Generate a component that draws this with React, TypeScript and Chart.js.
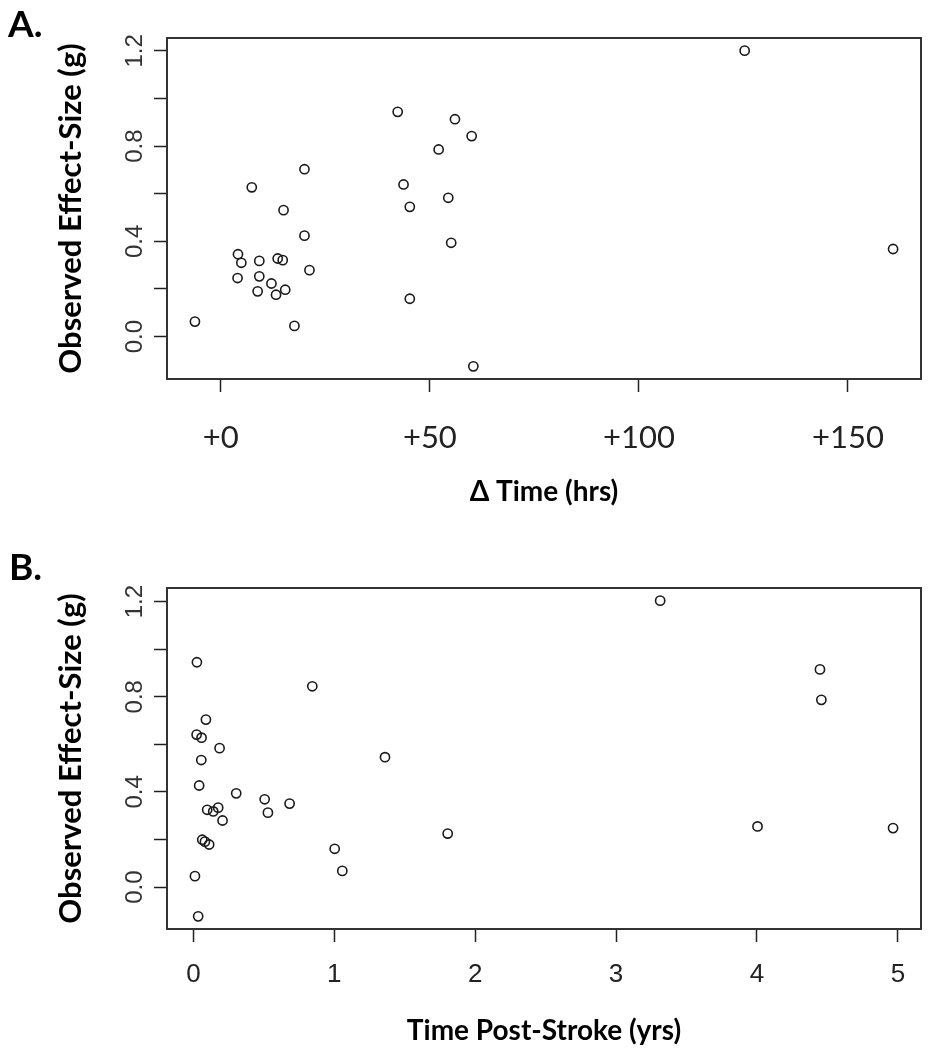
import React, { useEffect, useRef } from "react";
import { Chart, registerables } from "chart.js";

Chart.register(...registerables);

// Panel A: Δ Time (hrs) vs observed effect size
const A_DELTA_TIME_HRS = [
  -6.2, 4.1, 4.9, 4.0, 7.4, 9.2, 9.2, 8.8, 12.1, 13.6, 14.8, 13.2, 15.4, 15.0, 17.6,
  20.0, 20.0, 21.2, 42.3, 43.7, 45.2, 45.2, 52.1, 54.4, 55.1, 56.0, 60.0, 60.4, 125.3, 160.8,
];
const A_EFFECT_SIZE = [
  0.063, 0.346, 0.31, 0.246, 0.627, 0.318, 0.253, 0.19, 0.223, 0.328, 0.321, 0.176, 0.197, 0.531, 0.045,
  0.703, 0.424, 0.279, 0.944, 0.639, 0.545, 0.159, 0.786, 0.583, 0.394, 0.913, 0.842, -0.125, 1.201, 0.368,
];

// Panel B: Time post-stroke (yrs) vs observed effect size
const B_TIME_POST_STROKE_YRS = [
  0.025, 0.844, 0.089, 0.023, 0.058, 0.186, 0.056, 1.36, 0.041, 0.304, 0.506, 0.683, 0.529, 0.098, 0.141,
  0.176, 0.207, 0.063, 0.082, 0.112, 1.805, 1.003, 1.057, 0.011, 0.034, 3.313, 4.447, 4.457, 4.004, 4.966,
];
const B_EFFECT_SIZE = [
  0.945, 0.844, 0.704, 0.641, 0.628, 0.584, 0.534, 0.546, 0.427, 0.394, 0.369, 0.351, 0.313, 0.325, 0.318,
  0.334, 0.28, 0.199, 0.191, 0.179, 0.225, 0.161, 0.068, 0.046, -0.123, 1.204, 0.915, 0.787, 0.255, 0.248,
];

// Tick values and labels
const Y_TICKS = [0, 0.2, 0.4, 0.6, 0.8, 1.0, 1.2];
const Y_TICK_LABELS = ["0.0", "", "0.4", "", "0.8", "", "1.2"];
const A_X_TICKS = [0, 50, 100, 150];
const A_X_TICK_LABELS = ["+0", "+50", "+100", "+150"];
const B_X_TICKS = [0, 1, 2, 3, 4, 5];
const B_X_TICK_LABELS = ["0", "1", "2", "3", "4", "5"];

const Y_TITLE = "Observed Effect-Size (g)";
const A_X_TITLE = "\u0394 Time (hrs)";
const B_X_TITLE = "Time Post-Stroke (yrs)";

const W = 936;
const H = 525;
const R_FONT = "'Liberation Sans', Arial, Helvetica, sans-serif";
const TITLE_FONT = "Lato, 'Open Sans', sans-serif";

// R-style axis range: data range extended by 4% on each side
function rRange(arr: number[]): [number, number] {
  const mn = Math.min(...arr);
  const mx = Math.max(...arr);
  const r = mx - mn;
  return [mn - 0.04 * r, mx + 0.04 * r];
}

const boxPlugin = {
  id: "rbox",
  afterDatasetsDraw(chart: any) {
    const { ctx, chartArea: a } = chart;
    ctx.save();
    ctx.strokeStyle = "#333";
    ctx.lineWidth = 2;
    ctx.strokeRect(a.left, a.top, a.right - a.left, a.bottom - a.top);
    ctx.restore();
  },
};

interface PanelSpec {
  xs: number[];
  ys: number[];
  xTicks: number[];
  xLabels: string[];
  xTitle: string;
  xTickFont: any;
  xTickPad: number;
  topPad: number;
  xAxisHeight: number;
  xTitlePadBottom: number;
}

function makeConfig(p: PanelSpec): any {
  const [xmin, xmax] = rRange(p.xs);
  const [ymin, ymax] = rRange(p.ys);
  return {
    type: "scatter",
    data: {
      datasets: [
        {
          data: p.xs.map((x, i) => ({ x, y: p.ys[i] })),
          pointStyle: "circle",
          pointRadius: 4.6,
          pointBorderWidth: 1.6,
          pointBorderColor: "#1a1a1a",
          pointBackgroundColor: "rgba(0,0,0,0)",
          showLine: false,
        },
      ],
    },
    options: {
      animation: false,
      responsive: false,
      devicePixelRatio: 1,
      events: [],
      layout: { padding: { top: p.topPad, right: 15, left: 0, bottom: 0 } },
      plugins: { legend: { display: false }, tooltip: { enabled: false }, title: { display: false } },
      scales: {
        x: {
          type: "linear",
          position: "bottom",
          min: xmin,
          max: xmax,
          afterBuildTicks: (s: any) => {
            s.ticks = p.xTicks.map((v) => ({ value: v }));
          },
          afterFit: (s: any) => {
            s.height = p.xAxisHeight;
          },
          border: { display: false },
          grid: {
            display: true,
            drawOnChartArea: false,
            drawTicks: true,
            tickLength: 13,
            tickColor: "#222",
            tickWidth: 1.5,
          },
          ticks: {
            autoSkip: false,
            maxRotation: 0,
            minRotation: 0,
            padding: p.xTickPad,
            color: "#222",
            font: p.xTickFont,
            callback: (_v: any, i: number) => p.xLabels[i],
          },
          title: {
            display: true,
            text: p.xTitle,
            color: "#000",
            font: { family: TITLE_FONT, size: 28, weight: "bold" },
            padding: { top: 0, bottom: p.xTitlePadBottom },
          },
        },
        y: {
          type: "linear",
          position: "left",
          min: ymin,
          max: ymax,
          afterBuildTicks: (s: any) => {
            s.ticks = Y_TICKS.map((v) => ({ value: v }));
          },
          afterFit: (s: any) => {
            s.width = 167;
          },
          border: { display: false },
          grid: {
            display: true,
            drawOnChartArea: false,
            drawTicks: true,
            tickLength: 13,
            tickColor: "#222",
            tickWidth: 1.5,
          },
          ticks: {
            autoSkip: false,
            minRotation: 90,
            maxRotation: 90,
            crossAlign: "center",
            padding: 2,
            color: "#333",
            font: { family: R_FONT, size: 24 },
            callback: (_v: any, i: number) => Y_TICK_LABELS[i],
          },
          title: {
            display: true,
            text: Y_TITLE,
            color: "#000",
            font: { family: TITLE_FONT, size: 31, weight: "bold" },
            padding: { top: 52, bottom: 0 },
          },
        },
      },
    },
    plugins: [boxPlugin],
  };
}

const PANEL_A: PanelSpec = {
  xs: A_DELTA_TIME_HRS,
  ys: A_EFFECT_SIZE,
  xTicks: A_X_TICKS,
  xLabels: A_X_TICK_LABELS,
  xTitle: A_X_TITLE,
  xTickFont: { family: TITLE_FONT, size: 31 },
  xTickPad: 27,
  topPad: 38,
  xAxisHeight: 146,
  xTitlePadBottom: 16,
};

const PANEL_B: PanelSpec = {
  xs: B_TIME_POST_STROKE_YRS,
  ys: B_EFFECT_SIZE,
  xTicks: B_X_TICKS,
  xLabels: B_X_TICK_LABELS,
  xTitle: B_X_TITLE,
  xTickFont: { family: R_FONT, size: 26 },
  xTickPad: 17,
  topPad: 63,
  xAxisHeight: 121,
  xTitlePadBottom: 2,
};

export default function App() {
  const refA = useRef<HTMLCanvasElement | null>(null);
  const refB = useRef<HTMLCanvasElement | null>(null);

  useEffect(() => {
    const charts: Chart[] = [];
    if (refA.current) charts.push(new Chart(refA.current, makeConfig(PANEL_A)));
    if (refB.current) charts.push(new Chart(refB.current, makeConfig(PANEL_B)));
    return () => charts.forEach((c) => c.destroy());
  }, []);

  const panelLabel: React.CSSProperties = {
    position: "absolute",
    fontFamily: TITLE_FONT,
    fontWeight: 700,
    fontSize: 37,
    lineHeight: "37px",
    color: "#000",
    margin: 0,
  };

  return (
    <div style={{ position: "absolute", left: 0, top: 0, width: W, height: 2 * H, background: "#fff", overflow: "hidden" }}>
      <canvas ref={refA} width={W} height={H} style={{ position: "absolute", left: 0, top: 0, width: W, height: H, display: "block" }} />
      <canvas ref={refB} width={W} height={H} style={{ position: "absolute", left: 0, top: H, width: W, height: H, display: "block" }} />
      <div style={{ ...panelLabel, left: 8, top: 4 }}>A.</div>
      <div style={{ ...panelLabel, left: 9, top: 547 }}>B.</div>
    </div>
  );
}
